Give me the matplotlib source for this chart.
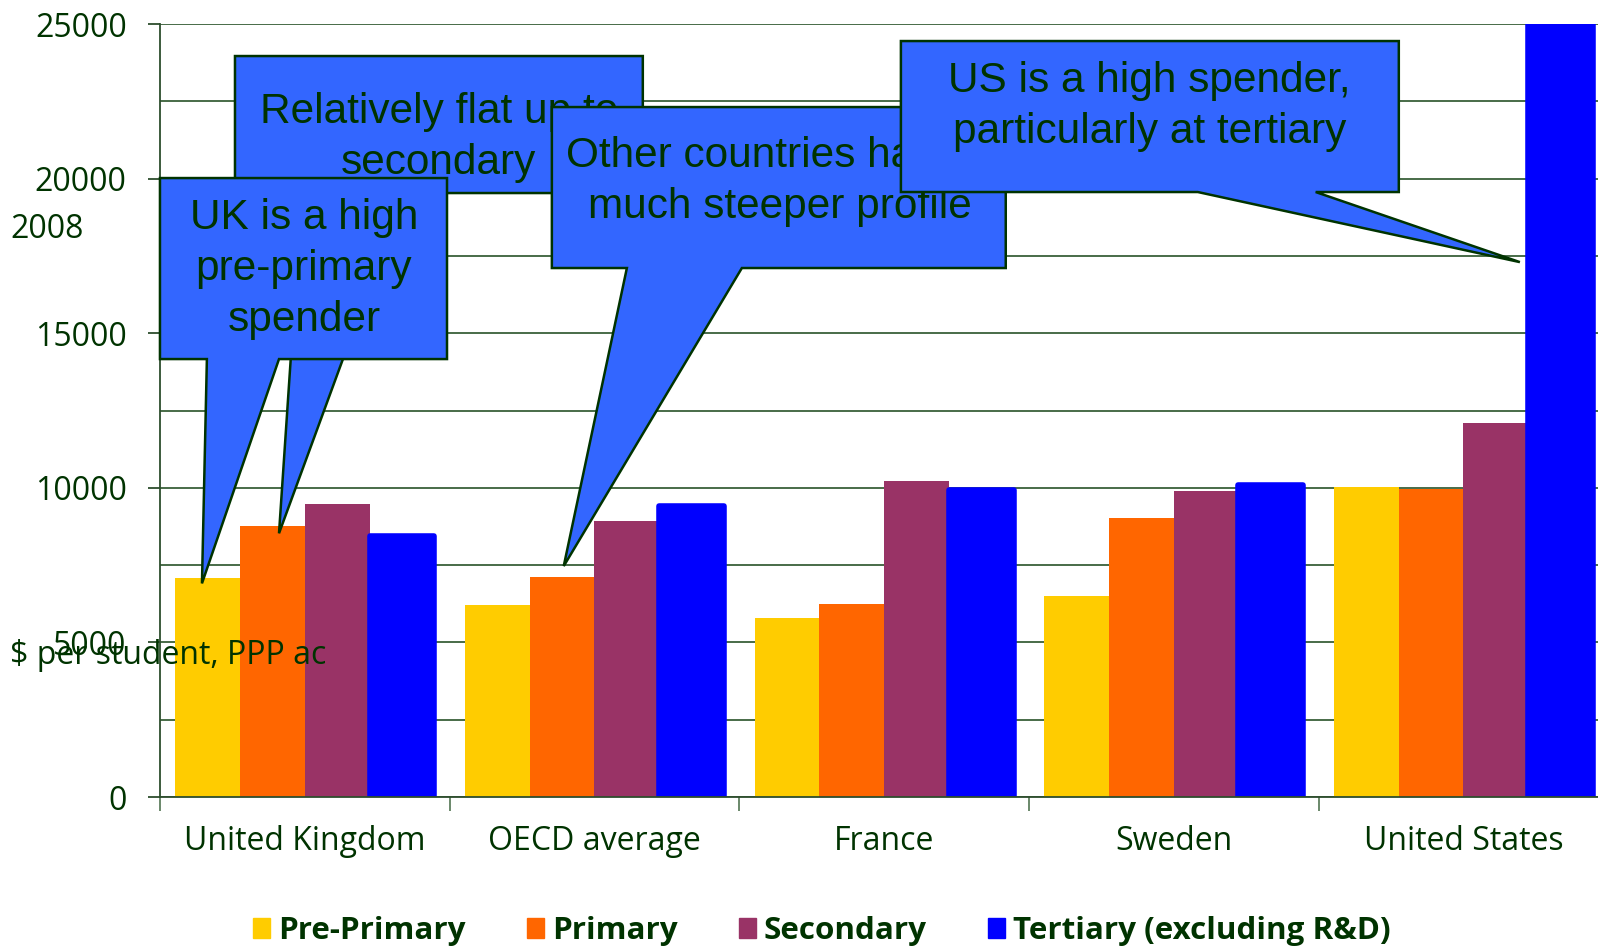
import matplotlib
matplotlib.use('Agg')
import matplotlib.pyplot as plt
from matplotlib.patches import Polygon, Patch
import numpy as np

# spending per student by level, 2008
countries = ['United Kingdom', 'OECD average', 'France', 'Sweden', 'United States']
pre_primary = [7100, 6200, 5780, 6500, 10030]
primary = [8750, 7130, 6240, 9040, 9960]
secondary = [9470, 8940, 10220, 9890, 12100]
tertiary = [8450, 9420, 9930, 10100, 26000]
levels = ['Pre-Primary', 'Primary', 'Secondary', 'Tertiary (excluding R&D)']
colors = ['#FFCC00', '#FF6600', '#993366', '#0000FF']

ink = '#003300'
callout_fill = '#3366FF'

fig = plt.figure(figsize=(15.98, 9.5), dpi=100)
ax = fig.add_axes([0.1001, 0.161, 0.9063, 0.8137])

x = np.arange(len(countries))
width = 0.2235
series = [pre_primary, primary, secondary, tertiary]
offsets = [-1.5, -0.5, 0.5, 1.5]
for vals, col, off in zip(series, colors, offsets):
    bars = ax.bar(x + off * width, vals, width, color=col, zorder=2)
    if col == '#0000FF':
        for b in bars:
            b.set_edgecolor(col)
            b.set_linewidth(4)
            b.set_joinstyle('round')

ax.set_xlim(-0.5, 4.5)
ax.set_ylim(0, 25000)
ax.set_yticks(np.arange(0, 25001, 5000))
ax.set_yticks(np.arange(0, 25001, 2500), minor=True)
ax.yaxis.grid(True, which='both', color='#476b47', linewidth=1.4, zorder=0)
ax.set_axisbelow(True)
ax.tick_params(axis='y', which='major', length=9, width=1.3, color='#2d4d2d', pad=15,
               labelsize=23, labelcolor=ink)
ax.tick_params(axis='y', which='minor', length=0)
for lab in ax.get_yticklabels():
    lab.set_family('Open Sans')

ax.set_xticks(x)
ax.set_xticklabels(countries, family='Open Sans', fontsize=23, color=ink)
ax.set_xticks(np.arange(-0.5, 5, 1), minor=True)
ax.tick_params(axis='x', which='major', length=0, pad=20)
ax.tick_params(axis='x', which='minor', length=10, width=1.3, color='#5f7f5f')

for s in ['top', 'right']:
    ax.spines[s].set_visible(False)
for s in ['left', 'bottom']:
    ax.spines[s].set_color('#2d4d2d')
    ax.spines[s].set_linewidth(1.3)

# clipped axis title pieces as they appear
fig.text(10 / 1598, 1 - 230 / 950, '2008', family='Open Sans', fontsize=23,
         color=ink, va='center', ha='left')
fig.text(10 / 1598, 1 - 656 / 950, '$ per student, PPP ac', family='Open Sans',
         fontsize=23, color=ink, va='center', ha='left', zorder=10)

# callouts: box (x0, x1, y0, y1), pointer base on box bottom, tip near a bar
def callout(box, base, tip, text, text_xy, z):
    x0, x1, y0, y1 = box
    pts = [(x0, y1), (x1, y1), (x1, y0), (base[1], y0), tip, (base[0], y0), (x0, y0)]
    ax.add_patch(Polygon(pts, closed=True, facecolor=callout_fill, edgecolor=ink,
                         linewidth=1.8, zorder=z, clip_on=False))
    ax.text(text_xy[0], text_xy[1], text, ha='center', va='center',
            family='Liberation Sans', fontsize=30.5, color=ink,
            linespacing=1.36, zorder=z + 0.5, clip_on=False)

callout((-0.241, 1.167, 19534, 23965), (-0.010, 0.342), (x[0] - 0.089, primary[0] - 220),
        'Relatively flat up to\nsecondary', (0.463, 21330), 5)
callout((-0.5, 0.491, 14165, 20019), (-0.338, -0.089), (x[0] - 0.355, pre_primary[0] - 190),
        'UK is a high\npre-primary\nspender', (-0.003, 17080), 6)
callout((0.853, 2.420, 17109, 22315), (1.112, 1.509), (x[1] - 0.106, primary[1] + 340),
        'Other countries have a\nmuch steeper profile', (1.640, 19920), 7)
callout((2.058, 3.777, 19567, 24450), (3.083, 3.490), (x[4] + 0.195, 17300),
        'US is a high spender,\nparticularly at tertiary', (2.916, 22330), 8)

handles = [Patch(facecolor=c, edgecolor=c) for c in colors]
leg = fig.legend(handles, levels, loc='center left', bbox_to_anchor=(253 / 1598, 1 - 931 / 950),
                 ncol=4, frameon=False, borderpad=0, borderaxespad=0,
                 handlelength=0.55, handleheight=0.6, handletextpad=0.25,
                 columnspacing=1.95, prop={'family': 'Open Sans', 'weight': 'bold', 'size': 22.6})
for t in leg.get_texts():
    t.set_color(ink)

fig.savefig('out.png', dpi=100)
